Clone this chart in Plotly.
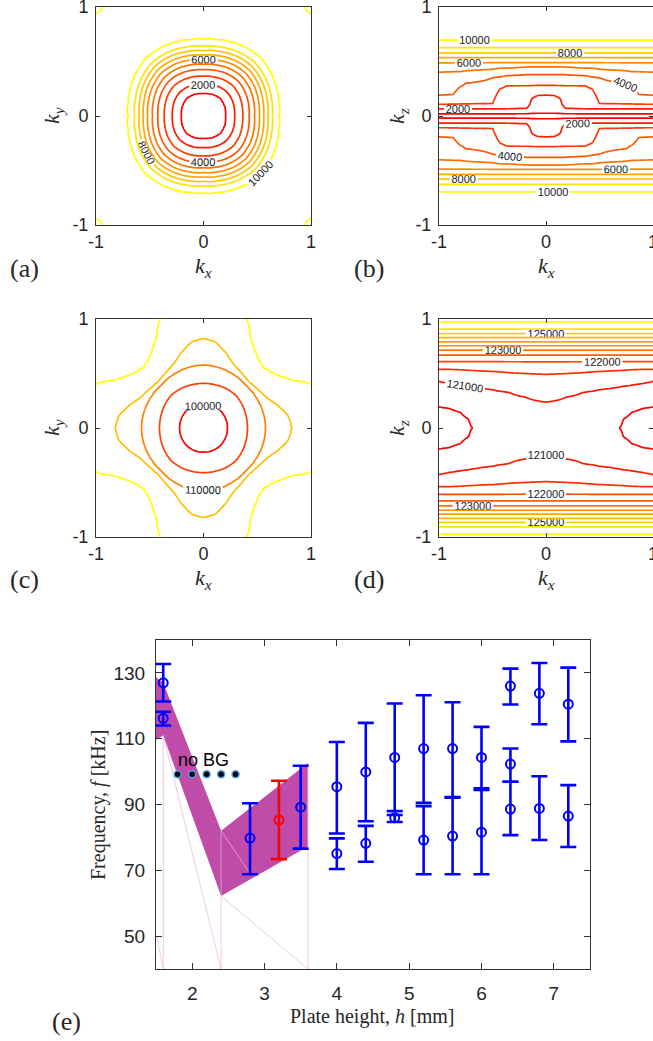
import numpy as np
import plotly.graph_objects as go

W, H = 653, 1041

# ---------------- panel (a): kx-ky, levels 1000..10000 ----------------
# radial profiles (radius, value) at several polar angles (degrees from the kx axis)
A_THETA = [0, 15, 30, 45]
A_R = [
    [0, 0.21, 0.29, 0.365, 0.425, 0.475, 0.52, 0.56, 0.60, 0.64, 0.70, 1.0, 1.3, 1.45, 1.6],
    [0, 0.214, 0.296, 0.372, 0.434, 0.485, 0.53, 0.571, 0.612, 0.653, 0.714, 1.0, 1.3, 1.45, 1.6],
    [0, 0.22, 0.305, 0.383, 0.446, 0.499, 0.546, 0.588, 0.63, 0.672, 0.735, 1.0, 1.3, 1.45, 1.6],
    [0, 0.225, 0.31, 0.39, 0.455, 0.508, 0.556, 0.60, 0.642, 0.685, 0.75, 1.05, 1.36, 1.42, 1.6],
]
A_F = [
    [0, 1000, 2000, 3000, 4000, 5000, 6000, 7000, 8000, 9000, 10000, 10500, 10500, 10500, 10500],
    [0, 1000, 2000, 3000, 4000, 5000, 6000, 7000, 8000, 9000, 10000, 10500, 10500, 10500, 10500],
    [0, 1000, 2000, 3000, 4000, 5000, 6000, 7000, 8000, 9000, 10000, 10500, 10500, 10500, 10500],
    [0, 1000, 2000, 3000, 4000, 5000, 6000, 7000, 8000, 9000, 10000, 10500, 10000, 9800, 9800],
]

# ---------------- panel (b): kx-kz, levels 1000..10000 ----------------
B_LEVELS = [1000, 2000, 3000, 4000, 5000, 6000, 7000, 8000, 9000, 10000]
B_KX = [0, 0.08, 0.13, 0.155, 0.18, 0.37, 0.43, 0.5, 0.75, 0.8, 0.87, 1.0]
B_POS = [
    [0.02] * 12,
    [0.195, 0.19, 0.165, 0.09, 0.068, 0.065, 0.065, 0.065, 0.065, 0.065, 0.065, 0.065],
    [0.28, 0.28, 0.28, 0.28, 0.28, 0.28, 0.25, 0.11, 0.105, 0.105, 0.105, 0.105],
    [0.38, 0.38, 0.38, 0.38, 0.38, 0.37, 0.36, 0.35, 0.30, 0.27, 0.195, 0.187],
    [0.45, 0.45, 0.45, 0.45, 0.45, 0.44, 0.44, 0.43, 0.415, 0.41, 0.41, 0.405],
    [0.49] * 12,
    [0.535] * 12,
    [0.58] * 12,
    [0.625] * 12,
    [0.69] * 12,
]
B_F0 = 500
B_EDGE = (1.1, 11000)

# ---------------- panel (c): kx-ky, levels 100000..120000 ----------------
C_LEVELS = [100000, 105000, 110000, 115000, 120000]
C_CENTER = 97000
C_THETA = [0, 8, 16, 22.5, 28, 33.75, 39, 45]
C_RAD = [
    [0.225, 0.41, 0.575, 0.82, 1.25],
    [0.225, 0.41, 0.575, 0.795, 1.19],
    [0.225, 0.412, 0.572, 0.725, 1.11],
    [0.225, 0.415, 0.57, 0.665, 1.07],
    [0.225, 0.418, 0.567, 0.635, 0.93],
    [0.225, 0.42, 0.565, 0.615, 0.855],
    [0.225, 0.423, 0.562, 0.605, 0.81],
    [0.225, 0.425, 0.56, 0.60, 0.785],
]
C_FAR = [122000, 122000, 122500, 124000, 125500, 127000, 128000, 129000]

# ---------------- panel (d): kx-kz, levels 120500..126000 ----------------
D_LEVELS = [120500, 121000, 121500, 122000, 122500, 123000, 123500,
            124000, 124500, 125000, 125500, 126000]
D_KX = [0, 0.2, 0.34, 0.5, 0.69, 0.72, 0.8, 0.9, 1.0]
D_F0 = [120800, 120790, 120760, 120700, 120500, 120450, 120350, 120280, 120250]
NA = float("nan")
D_POS = [
    [NA, NA, NA, NA, NA, 0.08, 0.145, 0.18, 0.195],
    [0.24, 0.29, 0.33, 0.355, 0.38, 0.383, 0.395, 0.41, 0.43],
    [0.495, 0.50, 0.51, 0.52, 0.53, 0.53, 0.535, 0.54, 0.54],
    [0.61] * 9,
    [0.67] * 9,
    [0.715] * 9,
    [0.755] * 9,
    [0.79] * 9,
    [0.83] * 9,
    [0.865] * 9,
    [0.905] * 9,
    [0.975] * 9,
]
D_EDGE = (1.05, 126700)

# ---------------- panel (e): measured frequencies ----------------
E_H = [1.6, 1.6, 2.8, 3.5, 4.0, 4.0, 4.4, 4.4, 4.8, 4.8, 5.2, 5.2, 5.6, 5.6,
       6.0, 6.0, 6.4, 6.4, 6.4, 6.8, 6.8, 7.2, 7.2]
E_F = [127.0, 116.2, 79.8, 89.2, 95.4, 75.1, 99.9, 78.2, 104.3, 86.0, 107.0, 79.2,
       107.0, 80.4, 104.3, 81.6, 126.0, 102.3, 88.6, 123.8, 88.8, 120.5, 86.5]
E_TOP = [132.7, 118.2, 90.4, 101.8, 109.0, 79.7, 114.8, 83.5, 120.7, 86.8, 123.2, 89.5,
         121.1, 92.1, 113.6, 94.4, 131.3, 107.0, 96.9, 133.0, 98.6, 131.6, 95.9]
E_BOT = [121.3, 114.0, 68.8, 76.6, 81.2, 70.4, 84.9, 72.6, 88.0, 84.7, 90.5, 68.8,
         92.3, 68.8, 94.9, 68.8, 120.4, 96.9, 80.7, 114.4, 79.2, 109.2, 77.1]
E_RED_H = [3.2]
E_RED_F = [85.3]
E_RED_TOP = [97.2]
E_RED_BOT = [73.4]
E_NOBG_H = [1.8, 2.0, 2.2, 2.4, 2.6]
E_NOBG_F = [99.2, 99.2, 99.2, 99.2, 99.2]
E_BAND_H = [1.45, 1.6, 2.4, 3.6, 3.6, 2.4, 1.6, 1.45]
E_BAND_F = [129.5, 127.0, 82.0, 102.6, 77.2, 62.2, 111.0, 109.0]
E_EDGE_H = [1.6, 1.6, None, 1.6, 2.4, None, 2.4, 2.4, None, 2.4, 3.6, None,
            3.6, 3.6, None, 2.4, 2.8, None, 1.51, 1.6]
E_EDGE_F = [111, 40, None, 111, 40, None, 82, 40, None, 62.2, 40, None,
            102.6, 40, None, 82, 69, None, 50, 40]


# ---------------- field builders ----------------
N = 121
K = np.linspace(-1, 1, N)


def node_weights(coord, nodes):
    idx = np.interp(coord, nodes, np.arange(len(nodes)))
    lo = np.floor(idx).astype(int)
    hi = np.minimum(lo + 1, len(nodes) - 1)
    return lo, hi, idx - lo


def polar_field(theta_nodes, r_rows, f_rows):
    KX, KY = np.meshgrid(K, K)
    r = np.hypot(KX, KY)
    th = np.degrees(np.arctan2(np.abs(KY), np.abs(KX)))
    th = np.minimum(th, 90 - th)
    R = np.array(r_rows, float)
    F = np.array(f_rows, float)
    lo, hi, w = node_weights(th, theta_nodes)
    Rg = R[lo] * (1 - w)[..., None] + R[hi] * w[..., None]
    Fg = F[lo] * (1 - w)[..., None] + F[hi] * w[..., None]
    Z = Fg[..., -1].copy()
    for i in range(R.shape[1] - 2, -1, -1):
        a, b = Rg[..., i], Rg[..., i + 1]
        seg = (r >= a) & (r < b)
        t = (r - a) / (b - a)
        Z = np.where(seg, Fg[..., i] + t * (Fg[..., i + 1] - Fg[..., i]), Z)
    return np.round(Z, 1)


def column_field(kx_nodes, levels, pos, f0, edge):
    az = np.abs(K)
    cols = []
    for j in range(len(kx_nodes)):
        zz = [0.0]
        ff = [f0[j] if isinstance(f0, list) else f0]
        for L, row in zip(levels, pos):
            p = row[j]
            if p == p:
                zz.append(p)
                ff.append(L)
        zz.append(edge[0])
        ff.append(edge[1])
        cols.append(np.interp(az, zz, ff))
    C = np.stack(cols)
    lo, hi, w = node_weights(np.abs(K), kx_nodes)
    Z = C[lo, :] * (1 - w)[:, None] + C[hi, :] * w[:, None]
    return np.round(Z.T, 1)


C_R = [[0] + row + [1.6] for row in C_RAD]
C_F = [[C_CENTER] + C_LEVELS + [far] for far in C_FAR]

ZA = polar_field(A_THETA, A_R, A_F)
ZB = column_field(B_KX, B_LEVELS, B_POS, B_F0, B_EDGE)
ZC = polar_field(C_THETA, C_R, C_F)
ZD = column_field(D_KX, D_LEVELS, D_POS, D_F0, D_EDGE)

SANS = "Liberation Sans, Arial, sans-serif"
SERIF = "Liberation Serif, Times New Roman, serif"
AX_COL = "rgb(50,50,50)"


def autumn(L, lo, hi):
    t = min(max((L - lo) / (hi - lo), 0.0), 1.0)
    return "rgb(255,%d,0)" % round(255 * t)


fig = go.Figure()


def add_contours(Z, specs, lo, hi, xa, ya):
    for start, end, size, lab in specs:
        fig.add_trace(go.Contour(
            x=K, y=K, z=Z, xaxis=xa, yaxis=ya, autocontour=False,
            contours=dict(start=start, end=end, size=size, coloring="lines",
                          showlabels=lab, labelformat="d",
                          labelfont=dict(family=SANS, size=11, color="rgb(25,25,25)")),
            colorscale=[[0, autumn(start, lo, hi)], [1, autumn(end, lo, hi)]],
            showscale=False, line=dict(width=1.7), hoverinfo="skip"))


add_contours(ZA, [(2000, 10000, 2000, True), (1000, 9000, 2000, False)], 1000, 10000, "x", "y")
add_contours(ZB, [(2000, 10000, 2000, True), (1000, 9000, 2000, False)], 1000, 10000, "x2", "y2")
add_contours(ZC, [(100000, 120000, 10000, True), (105000, 115000, 10000, False)],
             100000, 120000, "x3", "y3")
add_contours(ZD, [(121000, 123000, 1000, True), (125000, 126000, 1000, True),
                  (120500, 125500, 1000, False), (124000, 124000, 1000, False)],
             120500, 126000, "x4", "y4")

# ---------------- panel (e) traces ----------------
BAND = "rgb(190,76,168)"
fig.add_trace(go.Scatter(x=E_BAND_H, y=E_BAND_F, xaxis="x5", yaxis="y5", mode="lines",
                         fill="toself", fillcolor=BAND, line=dict(width=0, color=BAND),
                         hoverinfo="skip"))
fig.add_trace(go.Scatter(x=E_EDGE_H, y=E_EDGE_F, xaxis="x5", yaxis="y5", mode="lines",
                         line=dict(width=0.7, color="rgb(228,180,218)"), hoverinfo="skip"))
fig.add_trace(go.Scatter(
    x=E_H, y=E_F, xaxis="x5", yaxis="y5", mode="markers",
    marker=dict(symbol="circle-open", size=9, color="rgb(0,0,255)", line=dict(width=2)),
    error_y=dict(type="data", symmetric=False,
                 array=[t - f for t, f in zip(E_TOP, E_F)],
                 arrayminus=[f - b for f, b in zip(E_F, E_BOT)],
                 color="rgb(0,0,255)", thickness=2.6, width=8)))
fig.add_trace(go.Scatter(
    x=E_RED_H, y=E_RED_F, xaxis="x5", yaxis="y5", mode="markers",
    marker=dict(symbol="circle-open", size=9, color="rgb(255,0,0)", line=dict(width=2)),
    error_y=dict(type="data", symmetric=False,
                 array=[t - f for t, f in zip(E_RED_TOP, E_RED_F)],
                 arrayminus=[f - b for f, b in zip(E_RED_F, E_RED_BOT)],
                 color="rgb(255,0,0)", thickness=2.6, width=8)))
fig.add_trace(go.Scatter(
    x=E_NOBG_H, y=E_NOBG_F, xaxis="x5", yaxis="y5", mode="markers",
    marker=dict(symbol="circle", size=7, color="black",
                line=dict(width=1.5, color="rgb(70,165,230)"))))


# ---------------- axes ----------------
def dom_x(a, b):
    return [a / W, min(b / W, 1.0)]


def dom_y(top, bot):
    return [1 - bot / H, 1 - top / H]


def top_axis(dom, anchor):
    return dict(domain=dom, anchor=anchor, range=[-1, 1], tickvals=[-1, 0, 1],
                ticktext=["-1", "0", "1"], ticks="inside", ticklen=4, tickwidth=1,
                tickcolor=AX_COL, showline=True, linecolor=AX_COL, linewidth=1,
                mirror="ticks", showgrid=False, zeroline=False, ticklabeloverflow="allow",
                tickfont=dict(family=SANS, size=18, color="rgb(38,38,38)"))


lay = dict(width=W, height=H, margin=dict(l=0, r=0, t=0, b=0),
           paper_bgcolor="white", plot_bgcolor="white", showlegend=False,
           template="none")

XA = dom_x(96, 311)
XB = dom_x(439, 654)
Y1 = dom_y(7, 225)
Y2 = dom_y(319, 537)
pairs = [("xaxis", "yaxis", XA, Y1, "x", "y"),
         ("xaxis2", "yaxis2", XB, Y1, "x2", "y2"),
         ("xaxis3", "yaxis3", XA, Y2, "x3", "y3"),
         ("xaxis4", "yaxis4", XB, Y2, "x4", "y4")]
for xn, yn, xd, yd, xr, yr in pairs:
    xa = top_axis(xd, yr)
    xa["ticklabelstandoff"] = 0
    ya = top_axis(yd, xr)
    ya["ticklabelstandoff"] = 3
    lay[xn] = xa
    lay[yn] = ya

lay["xaxis5"] = dict(domain=dom_x(156, 590), anchor="y5", range=[1.5, 7.5],
                     tickvals=[2, 3, 4, 5, 6, 7], ticks="inside", ticklen=6,
                     tickcolor=AX_COL, showline=True, linecolor=AX_COL, linewidth=1,
                     mirror="ticks", showgrid=False, zeroline=False, ticklabelstandoff=7,
                     tickfont=dict(family=SANS, size=19, color="rgb(38,38,38)"))
lay["yaxis5"] = dict(domain=dom_y(640, 969), anchor="x5", range=[40, 140],
                     tickvals=[50, 70, 90, 110, 130], ticks="inside", ticklen=6,
                     tickcolor=AX_COL, showline=True, linecolor=AX_COL, linewidth=1,
                     mirror="ticks", showgrid=False, zeroline=False, ticklabelstandoff=6,
                     tickfont=dict(family=SANS, size=19, color="rgb(38,38,38)"))


def ann(px, py, text, size, angle=0, family=SERIF):
    return dict(x=px / W, y=1 - py / H, xref="paper", yref="paper", text=text,
                showarrow=False, xanchor="center", yanchor="middle", textangle=angle,
                font=dict(family=family, size=size, color="rgb(38,38,38)"))


KX_T = "<i>k</i><sub><i>x</i></sub>"
anns = [
    ann(203, 267, KX_T, 22), ann(546, 267, KX_T, 22),
    ann(203, 579, KX_T, 22), ann(546, 579, KX_T, 22),
    ann(53, 116, "<i>k</i><sub><i>y</i></sub>", 22, -90),
    ann(398, 116, "<i>k</i><sub><i>z</i></sub>", 22, -90),
    ann(53, 428, "<i>k</i><sub><i>y</i></sub>", 22, -90),
    ann(398, 428, "<i>k</i><sub><i>z</i></sub>", 22, -90),
    ann(25, 268, "(a)", 26), ann(369, 268, "(b)", 26),
    ann(25, 579, "(c)", 26), ann(369, 579, "(d)", 26),
    ann(66, 1021, "(e)", 26),
    ann(372, 1016, "Plate height, <i>h</i> [mm]", 20),
    ann(98, 805, "Frequency, <i>f</i> [kHz]", 20, -90),
    dict(x=2.15, y=103.6, xref="x5", yref="y5", text="no BG", showarrow=False,
         xanchor="center", yanchor="middle", font=dict(family=SANS, size=18, color="black")),
]
lay["annotations"] = anns
fig.update_layout(**lay)
fig.write_html("out.html", config={"displayModeBar": False},
               post_script="document.body.style.margin='0px';")
